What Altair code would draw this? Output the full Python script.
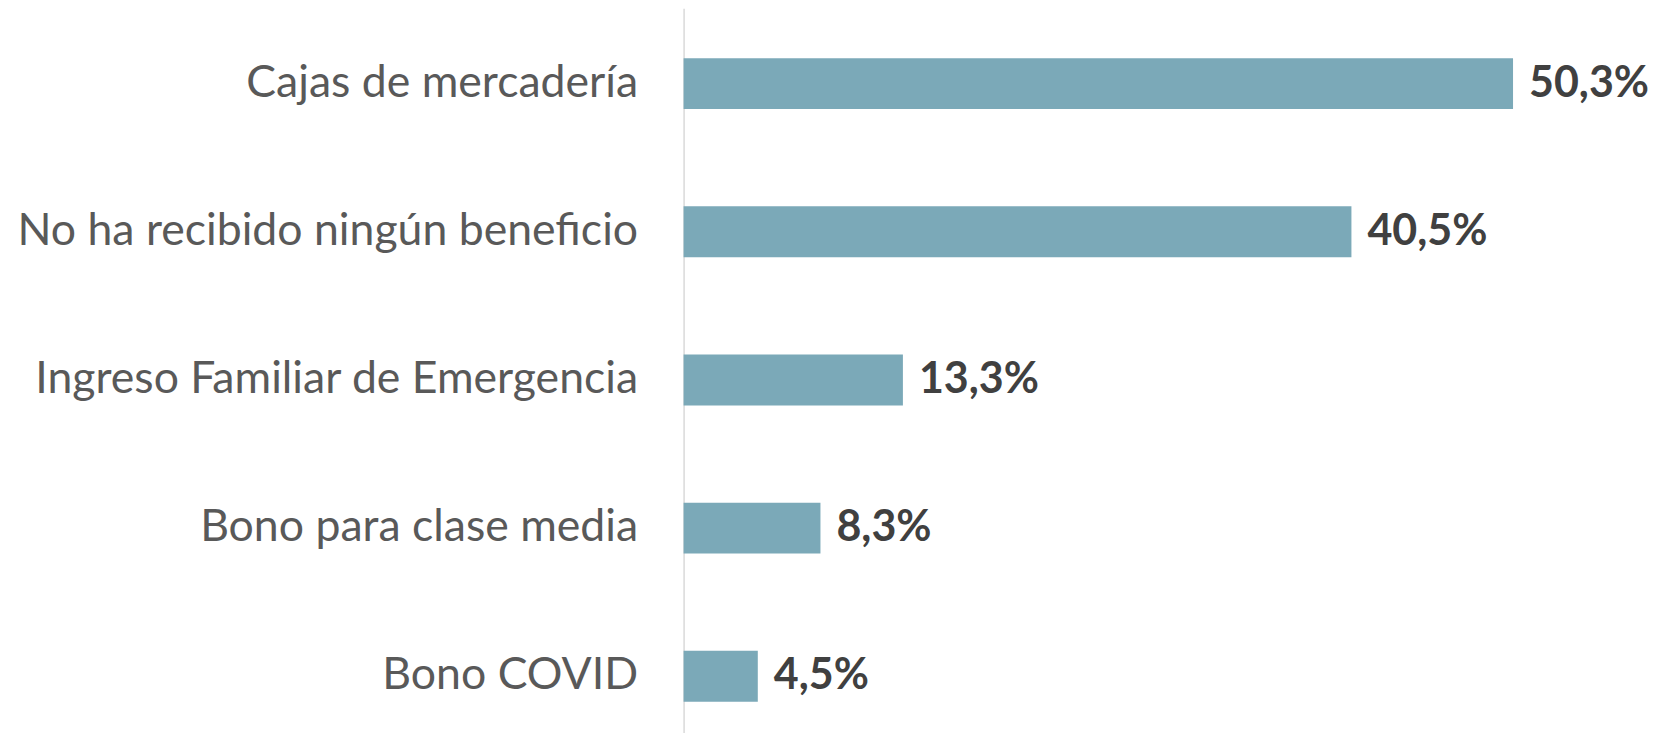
import altair as alt
import pandas as pd

categories = [
    "Cajas de mercadería",
    "No ha recibido ningún beneficio",
    "Ingreso Familiar de Emergencia",
    "Bono para clase media",
    "Bono COVID",
]
values = [50.3, 40.5, 13.3, 8.3, 4.5]
value_labels = ["50,3%", "40,5%", "13,3%", "8,3%", "4,5%"]

df = pd.DataFrame({"cat": categories, "val": values, "lab": value_labels})

y_enc = alt.Y(
    "cat:N",
    sort=categories,
    scale=alt.Scale(paddingInner=0.656, paddingOuter=0.273, align=0.617),
    axis=alt.Axis(
        title=None,
        ticks=False,
        labelPadding=46,
        labelFont="Lato",
        labelFontSize=44.6,
        labelColor="#595959",
        labelLimit=0,
        domainColor="#D9D9D9",
        domainWidth=1.5,
    ),
)
x_enc = alt.X("val:Q", scale=alt.Scale(domain=[0, 56], nice=False), axis=None)

bars = alt.Chart(df).mark_bar(color="#7BA9B8").encode(y=y_enc, x=x_enc)
text = alt.Chart(df).mark_text(
    align="left", baseline="middle", dx=16, font="Lato", fontSize=43,
    fontWeight="bold", color="#404040"
).encode(y=alt.Y("cat:N", sort=categories), x="val:Q", text="lab:N")

chart = (
    alt.layer(bars, text)
    .properties(
        width=924,
        height=725,
        background="white",
        autosize=alt.AutoSizeParams(type="none"),
        padding={"left": 676, "top": 0, "right": 45, "bottom": 0},
    )
    .configure_view(stroke=None, strokeWidth=0)
)

chart.save("out.html", embed_options={"renderer": "svg", "actions": False})
